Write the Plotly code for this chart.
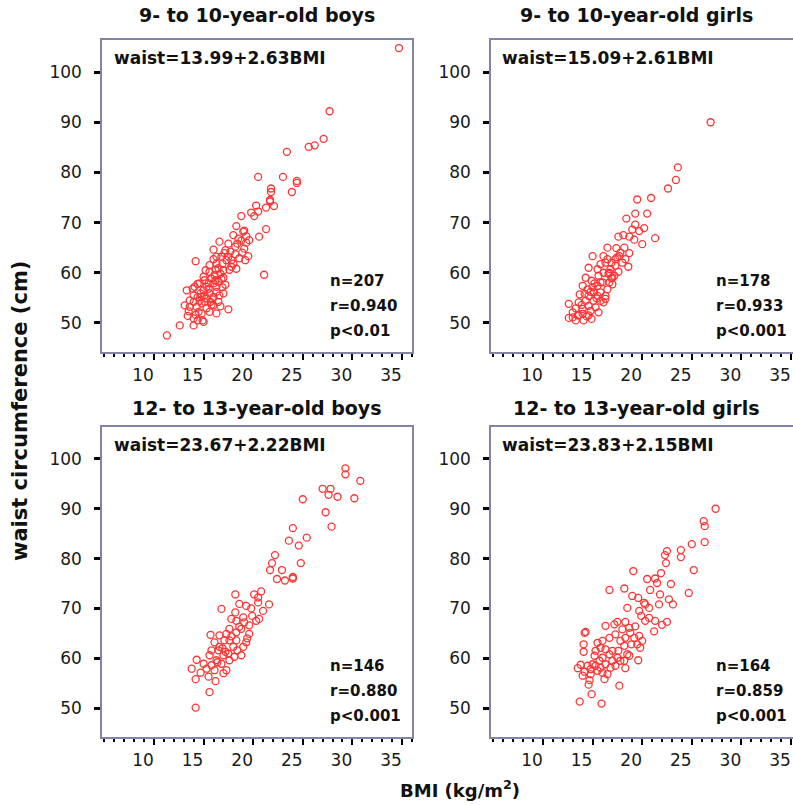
import plotly.graph_objects as go

W, H = 793, 805

panel_titles = ["9- to 10-year-old boys", "9- to 10-year-old girls",
                "12- to 13-year-old boys", "12- to 13-year-old girls"]
equations = ["waist=13.99+2.63BMI", "waist=15.09+2.61BMI",
             "waist=23.67+2.22BMI", "waist=23.83+2.15BMI"]
stats = [["n=207", "r=0.940", "p<0.01"],
         ["n=178", "r=0.933", "p<0.001"],
         ["n=146", "r=0.880", "p<0.001"],
         ["n=164", "r=0.859", "p<0.001"]]
x_ticks = [10, 15, 20, 25, 30, 35]
y_ticks = [50, 60, 70, 80, 90, 100]

# 9- to 10-year-old boys
bmi_b9 = [34.7, 27.7, 27.1, 26.2, 25.6, 23.4, 23.0, 20.5, 24.4, 24.4, 23.9, 21.8, 21.8, 21.7, 21.7,
          22.1, 21.3, 20.3, 19.8, 20.1, 20.5, 18.8, 18.3, 21.3, 19.1, 18.0, 18.5, 18.8, 19.3, 19.1,
          20.6, 21.1, 16.6, 19.2, 16.0, 17.2, 17.7, 16.8, 17.3, 16.3, 18.0, 18.3, 17.6, 17.0, 16.2,
          14.2, 15.6, 15.0, 14.6, 15.3, 16.3, 16.9, 13.3, 14.0, 13.6, 13.1, 14.3, 14.8, 15.3, 16.0,
          16.5, 15.6, 15.0, 14.4, 13.4, 13.5, 14.0, 14.0, 14.4, 14.8, 15.3, 16.0, 12.6, 11.3, 17.5,
          16.7, 15.5, 15.1, 15.8, 16.1, 16.5, 15.6, 16.3, 16.9, 17.5, 17.8, 18.2, 17.0, 16.7, 16.0,
          13.6, 14.6, 15.1, 15.7, 14.0, 14.5, 15.6, 14.9, 14.1, 17.0, 16.6, 16.3, 15.1, 14.8, 19.0,
          19.3, 19.6, 18.4, 15.5, 16.2, 14.7, 15.9, 16.8, 17.2, 15.2, 16.5, 17.8, 18.6, 17.1, 16.0,
          18.9, 19.5, 18.2, 17.5, 14.4, 13.9, 15.8, 14.2, 16.3, 15.0]
waist_b9 = [104.8, 92.2, 86.7, 85.4, 85.1, 84.1, 79.1, 79.1, 78.3, 77.9, 76.1, 76.8, 76.1, 74.5, 74.2,
            73.3, 73.0, 73.4, 72.0, 71.3, 72.2, 71.3, 69.3, 68.7, 68.4, 67.5, 66.8, 66.4, 66.0, 64.8,
            67.2, 59.6, 66.2, 62.5, 64.6, 64.5, 64.2, 63.2, 62.5, 63.2, 61.8, 60.8, 60.6, 59.0, 60.6,
            62.3, 60.2, 59.2, 57.9, 57.2, 57.2, 57.1, 56.5, 55.5, 54.5, 53.5, 53.2, 53.9, 54.9, 55.2,
            54.2, 55.9, 56.5, 55.2, 51.4, 52.3, 49.5, 50.9, 50.5, 51.9, 52.9, 53.5, 49.5, 47.5, 52.7,
            53.3, 57.9, 58.5, 58.8, 59.5, 58.2, 61.5, 61.8, 61.8, 63.2, 62.5, 63.7, 60.5, 59.8, 57.9,
            53.2, 54.4, 54.2, 54.2, 54.2, 52.2, 52.2, 50.5, 57.2, 55.9, 55.5, 56.2, 55.5, 55.2, 68.2,
            67.3, 66.5, 65.8, 56.8, 58.5, 55.9, 54.7, 58.8, 57.6, 60.5, 60.9, 61.2, 62.9, 63.9, 62.7,
            64.0, 63.3, 65.2, 65.8, 57.8, 56.8, 53.6, 51.6, 51.9, 50.2]

# 9- to 10-year-old girls
bmi_g9 = [26.9, 23.6, 23.4, 22.6, 20.9, 19.5, 19.3, 20.5, 18.4, 19.3, 19.0, 19.7, 20.2, 21.3, 20.0,
          19.2, 17.6, 18.1, 18.7, 16.5, 17.4, 18.2, 18.7, 18.3, 18.6, 17.7, 16.9, 16.1, 16.3, 17.6,
          17.2, 16.7, 16.5, 16.3, 15.0, 14.6, 14.3, 14.0, 13.7, 12.6, 12.6, 13.0, 13.3, 13.5, 14.4,
          14.0, 14.6, 15.1, 15.5, 15.8, 15.1, 14.6, 15.5, 16.0, 15.6, 14.9, 16.1, 15.5, 16.7, 15.8,
          13.6, 13.3, 14.0, 14.8, 15.3, 16.1, 14.3, 15.0, 17.0, 16.8, 18.0, 17.3, 17.8, 15.8, 14.5,
          13.6, 13.0, 14.1, 14.6, 14.9, 15.6, 16.3, 15.8, 17.0, 17.3, 16.5, 14.2, 15.2, 16.6, 13.9,
          15.4, 16.9, 14.8, 17.5]
waist_g9 = [90.0, 81.0, 78.5, 76.8, 74.9, 74.6, 71.8, 71.8, 70.8, 69.6, 68.6, 68.3, 68.9, 66.9, 65.7,
            66.6, 67.2, 67.5, 67.2, 65.0, 64.9, 65.0, 63.9, 62.7, 61.2, 63.3, 62.0, 63.3, 62.0, 60.2,
            59.4, 58.1, 56.7, 54.8, 63.3, 61.0, 59.0, 57.4, 55.7, 53.8, 51.0, 52.1, 50.5, 51.5, 51.3,
            52.8, 53.4, 54.4, 55.4, 56.1, 56.1, 55.4, 57.4, 58.1, 59.4, 58.4, 60.0, 60.7, 60.0, 61.7,
            54.1, 52.9, 51.8, 52.4, 53.1, 54.1, 54.4, 57.1, 57.7, 60.7, 62.0, 62.7, 64.0, 58.1, 56.7,
            51.5, 51.1, 50.5, 51.5, 50.8, 52.1, 55.4, 54.4, 59.0, 61.4, 62.7, 55.8, 57.9, 59.8, 53.6,
            54.9, 58.9, 56.2, 63.1]

# 12- to 13-year-old boys
bmi_b12 = [29.3, 29.3, 30.8, 27.0, 27.8, 27.6, 28.5, 30.2, 25.0, 27.3, 27.9, 24.0, 25.4, 23.6, 24.6,
           22.2, 21.9, 24.8, 22.9, 21.7, 22.4, 23.2, 24.0, 24.0, 18.2, 20.1, 20.8, 20.5, 20.5, 21.6,
           18.6, 19.8, 19.3, 16.8, 18.2, 19.0, 20.6, 19.9, 17.8, 18.3, 19.1, 17.6, 17.3, 18.3, 18.8,
           19.6, 15.7, 16.6, 19.3, 19.0, 18.8, 18.0, 18.3, 17.1, 16.1, 15.8, 16.5, 17.0, 17.5, 18.1,
           16.3, 15.8, 16.8, 17.3, 17.0, 16.1, 15.3, 15.0, 14.3, 13.8, 14.7, 14.2, 15.5, 16.2, 15.6,
           14.2, 15.6, 17.6, 16.6, 17.6, 18.4, 19.6, 20.3, 21.0, 16.9, 17.8, 18.6, 17.2, 16.4, 19.4]
waist_b12 = [98.1, 96.9, 95.6, 94.0, 94.0, 92.8, 92.4, 92.1, 91.9, 89.3, 86.4, 86.1, 84.2, 83.6, 82.6,
             80.7, 79.1, 79.1, 77.7, 77.7, 75.9, 75.6, 76.3, 76.0, 72.8, 72.8, 73.4, 72.2, 71.2, 70.8,
             70.9, 70.0, 70.5, 69.9, 69.2, 68.2, 67.9, 68.5, 67.9, 67.5, 67.2, 65.9, 64.9, 65.2, 65.9,
             66.6, 64.7, 64.6, 63.2, 62.3, 60.6, 62.3, 63.6, 63.6, 63.2, 61.6, 61.6, 60.6, 60.9, 60.3,
             59.6, 58.6, 58.9, 57.6, 57.0, 57.6, 57.9, 58.9, 59.7, 57.9, 57.1, 55.8, 56.3, 55.4, 53.2,
             50.1, 60.6, 59.6, 62.3, 63.6, 61.6, 64.9, 67.5, 69.5, 62.0, 64.4, 66.3, 61.3, 59.2, 64.0]

# 12- to 13-year-old girls
bmi_g12 = [27.4, 26.2, 26.3, 26.3, 25.0, 23.9, 23.9, 22.5, 22.3, 22.4, 25.2, 21.9, 19.1, 21.3, 20.5,
           21.5, 22.9, 20.8, 16.7, 18.2, 24.7, 19.0, 19.6, 20.2, 20.3, 21.7, 23.1, 18.5, 19.7, 19.9,
           20.7, 21.3, 20.3, 22.5, 22.0, 21.2, 19.3, 18.3, 17.5, 18.7, 18.0, 18.8, 19.7, 20.0, 19.5,
           19.8, 17.2, 16.3, 14.3, 14.2, 14.1, 14.1, 15.5, 16.0, 16.7, 17.3, 17.8, 18.2, 17.6, 18.5,
           18.7, 18.2, 18.3, 19.6, 17.0, 16.3, 15.8, 15.3, 15.2, 16.0, 16.7, 17.0, 17.5, 16.8, 16.3,
           15.7, 15.0, 14.5, 13.8, 13.5, 14.2, 14.8, 15.5, 16.0, 16.2, 14.8, 14.0, 14.7, 14.6, 17.7,
           14.9, 13.7, 15.9, 15.8, 15.3, 16.5, 17.3, 17.8, 18.9, 19.2, 18.3, 20.7, 22.7, 21.8]
waist_g12 = [90.0, 87.5, 86.5, 83.3, 82.9, 81.7, 80.3, 81.5, 80.7, 79.1, 77.7, 77.1, 77.5, 76.0, 75.9,
             75.1, 74.9, 73.7, 73.7, 74.0, 73.1, 72.5, 72.1, 71.1, 70.8, 70.8, 70.8, 70.1, 69.5, 68.5,
             68.1, 67.5, 67.5, 67.3, 66.7, 65.4, 66.4, 67.3, 67.3, 66.1, 65.8, 65.1, 64.5, 63.5, 62.8,
             62.1, 66.8, 66.5, 65.3, 65.1, 62.8, 61.3, 63.1, 63.5, 64.1, 64.8, 63.5, 62.5, 61.5, 60.8,
             60.5, 59.5, 58.0, 59.6, 61.5, 61.8, 62.1, 61.5, 60.5, 60.1, 60.8, 59.5, 60.1, 58.1, 58.8,
             59.5, 58.8, 58.5, 58.7, 58.0, 57.3, 57.8, 57.5, 57.1, 55.8, 56.8, 56.5, 55.6, 54.7, 54.5,
             52.8, 51.3, 50.9, 58.1, 58.5, 56.8, 58.5, 59.5, 62.8, 64.1, 64.1, 70.1, 71.8, 72.8]

series_x = [bmi_b9, bmi_g9, bmi_b12, bmi_g12]
series_y = [waist_b9, waist_g9, waist_b12, waist_g12]

FONT = "DejaVu Sans"
BOX = "#8383a3"
RED = "#ff3333"

# panel pixel boxes (left, right, top, bottom)
boxes = [(102, 412, 40, 352), (491, 793, 40, 352),
         (102, 412, 427, 737), (491, 793, 427, 737)]
PX_PER_BMI = 9.92
X0 = 4.76

fig = go.Figure()
annotations = []


def pxx(x):
    return x / W


def pxy(y):
    return 1 - y / H


for i in range(4):
    l, r, t, b = boxes[i]
    xa = "x" if i == 0 else f"x{i + 1}"
    ya = "y" if i == 0 else f"y{i + 1}"
    fig.add_trace(go.Scatter(
        x=series_x[i], y=series_y[i], mode="markers",
        xaxis=xa, yaxis=ya,
        marker=dict(symbol="circle-open", size=7, color=RED, line=dict(width=1.3)),
        hoverinfo="skip"))
    right = i in (1, 3)
    xr = [X0, X0 + (r - l) / PX_PER_BMI]
    xkey = "xaxis" if i == 0 else f"xaxis{i + 1}"
    ykey = "yaxis" if i == 0 else f"yaxis{i + 1}"
    fig.layout[xkey] = dict(
        domain=[pxx(l), pxx(r)], range=xr, anchor=ya,
        tickmode="array", tickvals=x_ticks, ticks="outside", ticklen=6,
        tickwidth=2, tickcolor="black",
        minor=dict(tickmode="array", tickvals=list(range(5, 37)), ticks="outside",
                   ticklen=3, tickwidth=2, tickcolor="black"),
        showline=True, linecolor=BOX, linewidth=1.5, mirror=True,
        showgrid=False, zeroline=False, ticklabelshift=-11, ticklabelstandoff=1,
        tickfont=dict(family=FONT, size=17, color="#1a1a1a"))
    fig.layout[ykey] = dict(
        domain=[pxy(b), pxy(t)], range=[44.2, 106.4], anchor=xa,
        tickmode="array", tickvals=y_ticks, ticks="outside", ticklen=6,
        tickwidth=3, tickcolor="black",
        showline=True, linecolor=BOX, linewidth=1.5, mirror=not right,
        showgrid=False, zeroline=False, ticklabelstandoff=9,
        tickfont=dict(family=FONT, size=17, color="#1a1a1a"))

    # panel title
    cx = 257 if not right else 636
    ty = 15 if i < 2 else 408
    annotations.append(dict(x=pxx(cx), y=pxy(ty), xref="paper", yref="paper",
                            text=f"<b>{panel_titles[i]}</b>", showarrow=False,
                            xanchor="center", yanchor="middle",
                            font=dict(family=FONT, size=19, color="#111")))
    # equation
    ex = l + 10 if not right else l + 9
    ey = t + 18
    annotations.append(dict(x=pxx(ex), y=pxy(ey), xref="paper", yref="paper",
                            text=f"<b>{equations[i]}</b>", showarrow=False,
                            xanchor="left", yanchor="middle",
                            font=dict(family=FONT, size=17, color="#111")))
    # stats
    sx = 328 if not right else 714
    for k, s in enumerate(stats[i]):
        sy = b - 71 + 25 * k
        annotations.append(dict(x=pxx(sx), y=pxy(sy), xref="paper", yref="paper",
                                text=f"<b>{s}</b>", showarrow=False,
                                xanchor="left", yanchor="middle",
                                font=dict(family=FONT, size=15, color="#111")))

annotations.append(dict(x=pxx(460), y=pxy(789), xref="paper", yref="paper",
                        text="<b>BMI (kg/m<sup>2</sup>)</b>", showarrow=False,
                        xanchor="center", yanchor="middle",
                        font=dict(family=FONT, size=18, color="#111")))
annotations.append(dict(x=pxx(20), y=pxy(411), xref="paper", yref="paper",
                        text="<b>waist circumference (cm)</b>", showarrow=False,
                        textangle=-90, xanchor="center", yanchor="middle",
                        font=dict(family=FONT, size=21, color="#111")))

fig.update_layout(width=W, height=H, margin=dict(l=0, r=0, t=0, b=0),
                  paper_bgcolor="white", plot_bgcolor="white",
                  showlegend=False, annotations=annotations)

fig.write_html("out.html", config={"displayModeBar": False},
               post_script="document.body.style.margin='0';"
                           "document.body.style.padding='0';"
                           "document.body.style.overflow='hidden';")
